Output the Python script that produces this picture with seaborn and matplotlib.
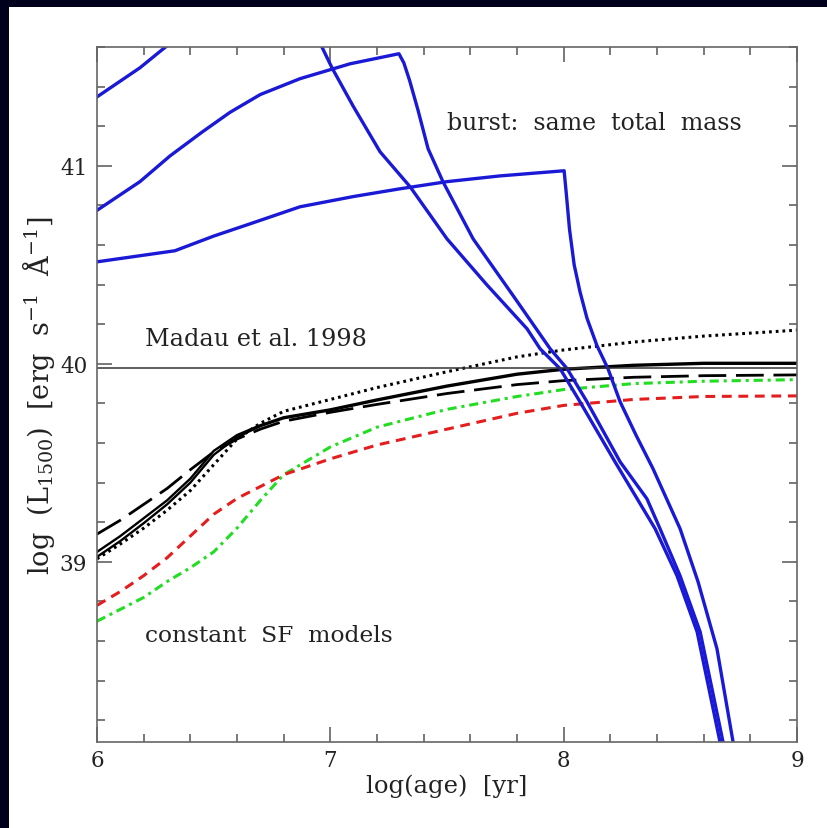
import matplotlib
matplotlib.use("Agg")
import matplotlib.pyplot as plt
from matplotlib.ticker import MultipleLocator, FixedLocator
from matplotlib.patches import Rectangle
import seaborn as sns

# ---------------- data ----------------
# constant star formation models (common age grid)
csf_age = [6.0, 6.1, 6.2, 6.3, 6.4, 6.5, 6.6, 6.7, 6.8, 7.0, 7.2, 7.5, 7.8, 8.0, 8.3, 8.6, 9.0]
csf_solid1 = [39.05, 39.13, 39.22, 39.31, 39.42, 39.56, 39.64, 39.69, 39.73, 39.77, 39.82, 39.89, 39.95, 39.975, 39.995, 40.005, 40.005]
csf_solid2 = [39.025, 39.105, 39.195, 39.29, 39.40, 39.54, 39.63, 39.685, 39.725, 39.765, 39.815, 39.885, 39.945, 39.97, 39.99, 40.0, 40.0]
csf_dotted = [39.015, 39.09, 39.17, 39.26, 39.36, 39.49, 39.62, 39.70, 39.76, 39.82, 39.88, 39.96, 40.035, 40.07, 40.11, 40.14, 40.17]
csf_longdash = [39.14, 39.21, 39.29, 39.37, 39.465, 39.555, 39.62, 39.67, 39.71, 39.755, 39.795, 39.85, 39.895, 39.915, 39.932, 39.94, 39.944]
csf_red = [38.78, 38.85, 38.93, 39.02, 39.13, 39.24, 39.32, 39.38, 39.44, 39.52, 39.59, 39.67, 39.75, 39.79, 39.82, 39.835, 39.838]
csf_green = [38.70, 38.76, 38.82, 38.90, 38.97, 39.05, 39.17, 39.31, 39.44, 39.58, 39.68, 39.77, 39.835, 39.87, 39.90, 39.912, 39.92]

# bursts (same total mass)
burstA_age = [6.0, 6.334, 6.50, 6.656, 6.870, 7.10, 7.299, 7.50, 7.727, 8.002, 8.012, 8.025, 8.045, 8.070, 8.10, 8.143, 8.190, 8.242, 8.31, 8.383, 8.499, 8.576, 8.657, 8.726]
burstA_lum = [40.515, 40.571, 40.645, 40.707, 40.793, 40.845, 40.884, 40.92, 40.949, 40.975, 40.85, 40.68, 40.50, 40.364, 40.23, 40.091, 39.975, 39.808, 39.64, 39.470, 39.167, 38.899, 38.561, 38.09]

burstB_age = [6.0, 6.184, 6.313, 6.45, 6.57, 6.70, 6.87, 7.084, 7.294, 7.315, 7.340, 7.376, 7.419, 7.483, 7.612, 7.78, 7.942, 8.015, 8.100, 8.242, 8.357, 8.413, 8.499, 8.585, 8.683]
burstB_lum = [40.775, 40.92, 41.05, 41.17, 41.27, 41.36, 41.44, 41.515, 41.566, 41.52, 41.43, 41.28, 41.086, 40.919, 40.631, 40.35, 40.076, 39.975, 39.808, 39.505, 39.318, 39.167, 38.929, 38.646, 38.09]

burstC_age = [6.0, 6.184, 6.283, 6.40, 6.55, 6.70, 6.75, 6.85, 6.964, 7.007, 7.097, 7.213, 7.342, 7.500, 7.67, 7.843, 7.899, 7.985, 8.070, 8.220, 8.392, 8.486, 8.572, 8.670]
burstC_lum = [41.348, 41.495, 41.59, 41.70, 41.82, 41.95, 41.87, 41.78, 41.60, 41.495, 41.303, 41.071, 40.894, 40.631, 40.40, 40.177, 40.076, 39.975, 39.808, 39.505, 39.167, 38.929, 38.646, 38.09]

MADAU = 39.98

x_major = [6, 7, 8, 9]
y_major = [39, 40, 41]
x_labels = ["6", "7", "8", "9"]
y_labels = ["39", "40", "41"]

# ---------------- figure ----------------
plt.rcParams["font.family"] = ["DejaVu Serif"]
plt.rcParams["mathtext.fontset"] = "dejavuserif"

W, H = 827, 829
fig = plt.figure(figsize=(W / 100, H / 100), dpi=100, facecolor="#00001c")
fig.add_artist(Rectangle((9 / W, 0), 1 - 9 / W, 1 - 8 / H, transform=fig.transFigure,
                         facecolor="white", edgecolor="none", zorder=-10))
ax = fig.add_axes([97 / W, (H - 743) / H, (797 - 97) / W, (743 - 48) / H])
ax.set_facecolor("white")

blue = "#1a1ad6"

def csf(yvals, **kw):
    sns.lineplot(x=csf_age, y=yvals, ax=ax, sort=False, estimator=None, **kw)

csf(csf_green, color="#22dd22", lw=2.2, linestyle=(0, (3, 1.6, 1, 1.6)))
csf(csf_red, color="#e41e1e", lw=2.2, linestyle=(0, (3.2, 2.2)))
csf(csf_longdash, color="black", lw=2.0, linestyle=(0, (10, 3.5)))
csf(csf_dotted, color="black", lw=2.2, linestyle=(0, (0.9, 1.3)))
csf(csf_solid1, color="black", lw=1.7)
csf(csf_solid2, color="black", lw=1.7)

for a, l in [(burstA_age, burstA_lum), (burstB_age, burstB_lum), (burstC_age, burstC_lum)]:
    sns.lineplot(x=a, y=l, ax=ax, sort=False, estimator=None, color=blue, lw=2.4)

ax.axhline(MADAU, color="#333333", lw=1.1)

ax.set_xlim(6, 9)
ax.set_ylim(38.09, 41.6)

ax.xaxis.set_major_locator(FixedLocator(x_major))
ax.yaxis.set_major_locator(FixedLocator(y_major))
ax.set_xticklabels(x_labels)
ax.set_yticklabels(y_labels)
ax.xaxis.set_minor_locator(MultipleLocator(0.2))
ax.yaxis.set_minor_locator(MultipleLocator(0.2))
ax.tick_params(which="both", direction="in", top=True, right=True, color="#555555", width=1.1)
ax.tick_params(which="major", length=10.5, labelsize=15.5, labelcolor="#222222")
ax.tick_params(which="minor", length=6)
ax.tick_params(axis="y", which="major", pad=7)
ax.tick_params(axis="x", which="major", pad=5)
for s in ax.spines.values():
    s.set_color("#666666")
    s.set_linewidth(1.2)

ax.set_xlabel("log(age)  [yr]", fontsize=17.5, color="#222222", labelpad=2)
ax.set_ylabel(r"log  (L$_{1500}$)  [erg  s$^{-1}$  Å$^{-1}$]", fontsize=19.5, color="#222222", labelpad=2)

ax.text(7.5, 41.22, "burst:  same  total  mass", fontsize=17, color="#222222", va="center", ha="left")
ax.text(6.206, 40.13, "Madau et al. 1998", fontsize=17.3, color="#222222", va="center", ha="left")
ax.text(6.206, 38.63, "constant  SF  models", fontsize=16.8, color="#222222", va="center", ha="left")

fig.savefig("out.png", dpi=100, facecolor=fig.get_facecolor())
